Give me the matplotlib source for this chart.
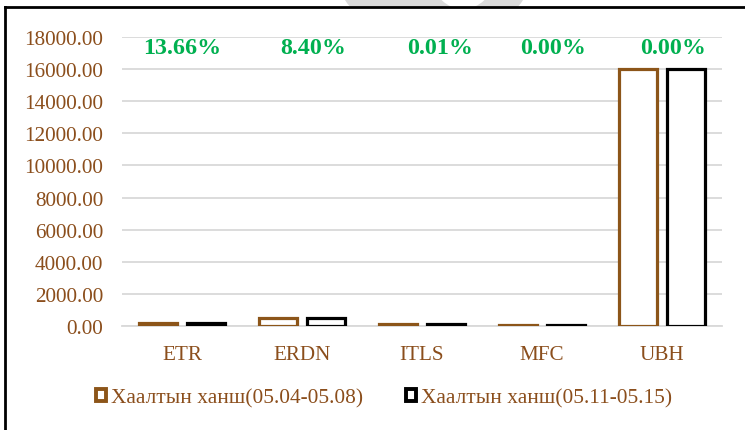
import matplotlib.pyplot as plt
from matplotlib.patches import Patch, Ellipse, Rectangle
from matplotlib.lines import Line2D

categories = ['ETR', 'ERDN', 'ITLS', 'MFC', 'UBH']
week1 = [161, 476, 110, 80, 16000]
week2 = [183, 516, 100, 78, 16000]
pct_labels = ['13.66%', '8.40%', '0.01%', '0.00%', '0.00%']
series_names = ['Хаалтын ханш(05.04-05.08)', 'Хаалтын ханш(05.11-05.15)']

brown = '#8C5519'
text_brown = '#8B4E1C'
green = '#00B050'
plt.rcParams['font.family'] = ['Liberation Serif', 'DejaVu Serif']

fig = plt.figure(figsize=(7.45, 4.31), dpi=100)
W, H = 745, 431

# gray watermark arc at the top, clipped to the strip above the frame
strip = Rectangle((0, 1 - 8 / H), 1, 8 / H, transform=fig.transFigure)
ring = Ellipse((434 / W, 1 + 60 / H), 216 / W, 216 / H, transform=fig.transFigure,
               facecolor='#DADADA', edgecolor='none', zorder=-2)
hole = Ellipse((463 / W, 1 + 20 / H), 60 / W, 60 / H, transform=fig.transFigure,
               facecolor='white', edgecolor='none', zorder=-1)
for p in (ring, hole):
    p.set_clip_path(strip)
    fig.patches.append(p)

# frame lines
fig.lines.append(Line2D([5 / W, 1], [1 - 8 / H, 1 - 8 / H], transform=fig.transFigure,
                        color='black', lw=2))
fig.lines.append(Line2D([5 / W, 5 / W], [0, 1 - 8 / H], transform=fig.transFigure,
                        color='black', lw=2))

ax = fig.add_axes([122 / W, (431 - 327) / H, 600 / W, (327 - 38) / H])
ax.set_facecolor('none')

x = list(range(len(categories)))
bw = 0.31
ax.bar([i - 0.2 for i in x], week1, bw, facecolor='white', edgecolor=brown, linewidth=2.3,
       zorder=3)
ax.bar([i + 0.2 for i in x], week2, bw, facecolor='white', edgecolor='black', linewidth=2.3,
       zorder=3)

ax.set_xlim(-0.5, 4.5)
ax.set_ylim(0, 18000)
ax.set_yticks(range(0, 18001, 2000))
ax.set_yticklabels([f'{v:.2f}' for v in range(0, 18001, 2000)])
ax.set_xticks(x)
ax.set_xticklabels(categories)
ax.tick_params(length=0, labelsize=15.2, labelcolor=text_brown)
ax.tick_params(axis='x', pad=13.5)
ax.tick_params(axis='y', pad=13.5)
ax.grid(axis='y', color='#D9D9D9', lw=1.3, zorder=0)
for s in ['top', 'right', 'left']:
    ax.spines[s].set_visible(False)
ax.spines['bottom'].set_color('#D9D9D9')
ax.spines['bottom'].set_linewidth(1.3)

offsets = [0.0, 0.09, 0.15, 0.09, 0.09]
for i, lab in enumerate(pct_labels):
    ax.text(i + offsets[i], 17350, lab, ha='center', va='center', color=green,
            fontsize=17.3, fontweight='bold')

handles = [Patch(facecolor='white', edgecolor=brown, linewidth=2.8),
           Patch(facecolor='white', edgecolor='black', linewidth=2.8)]
leg = fig.legend(handles, series_names, loc='center', bbox_to_anchor=(0.516, (431 - 399) / H),
                 ncol=2, frameon=False, fontsize=15.4, handlelength=0.45, handleheight=0.45,
                 handletextpad=0.25, columnspacing=2.0)
for t in leg.get_texts():
    t.set_color(text_brown)

fig.savefig('out.png', dpi=100)
